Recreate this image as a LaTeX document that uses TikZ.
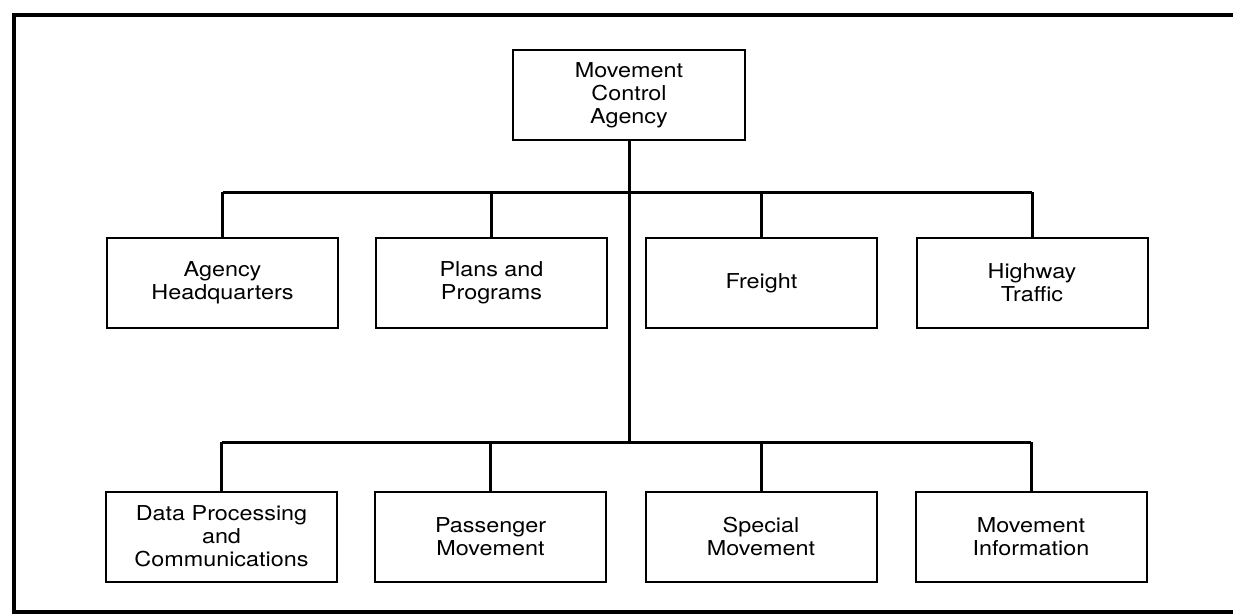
\documentclass[tikz,border=0pt]{standalone}
\usepackage{fontspec}
\setmainfont{TeX Gyre Heros}[FakeStretch=1.14]
\usetikzlibrary{positioning}

\begin{document}
\begin{tikzpicture}[
  x=1pt,y=-1pt,
  font=\fontsize{20.5}{23}\selectfont,
  unit/.style={draw,line width=2pt,minimum width=231pt,minimum height=90pt,
               inner sep=0pt,align=center},
  head/.style={unit,minimum width=232pt},
  link/.style={line width=3pt},
  frame/.style={line width=3.5pt},
]
\useasboundingbox (0,0) rectangle (1233,615);

% ---- open frame (right side runs off the page) ----
\draw[frame] (1233,15) -- (14,15) -- (14,612) -- (1233,612);

% ---- top: the agency itself ----
\node[head] (mca) at (629,95) {Movement\\Control\\Agency};

% ---- first row of divisions ----
\node[unit] (hq)      at (222.5,283) {Agency\\Headquarters};
\node[unit] (plans)   at (491.5,283) {Plans and\\Programs};
\node[unit] (freight) at (761.5,283) {Freight};
\node[unit] (traffic) at (1032,283)  {Highway\\Traffic};

% ---- second row of divisions ----
\node[unit] (dpc)     at (221.5,536.5) {Data Processing\\and\\Communications};
\node[unit] (pass)    at (490.5,536.5) {Passenger\\Movement};
\node[unit] (special) at (761,536.5)   {Special\\Movement};
\node[unit] (info)    at (1031,536.5)  {Movement\\Information};

% bus heights
\coordinate (upbus)  at (0,192);
\coordinate (lowbus) at (0,442);

% trunk from the agency down to the lower bus
\draw[link] (mca.south) -- (mca.south |- lowbus);

% upper bus and its droppers
\draw[link] (hq.north |- upbus) -- (traffic.north |- upbus);
\foreach \n in {hq,plans,freight,traffic}
  \draw[link] (\n.north |- upbus) -- (\n.north);

% lower bus and its droppers
\draw[link] (dpc.north |- lowbus) -- (info.north |- lowbus);
\foreach \n in {dpc,pass,special,info}
  \draw[link] (\n.north |- lowbus) -- (\n.north);

\end{tikzpicture}
\end{document}
